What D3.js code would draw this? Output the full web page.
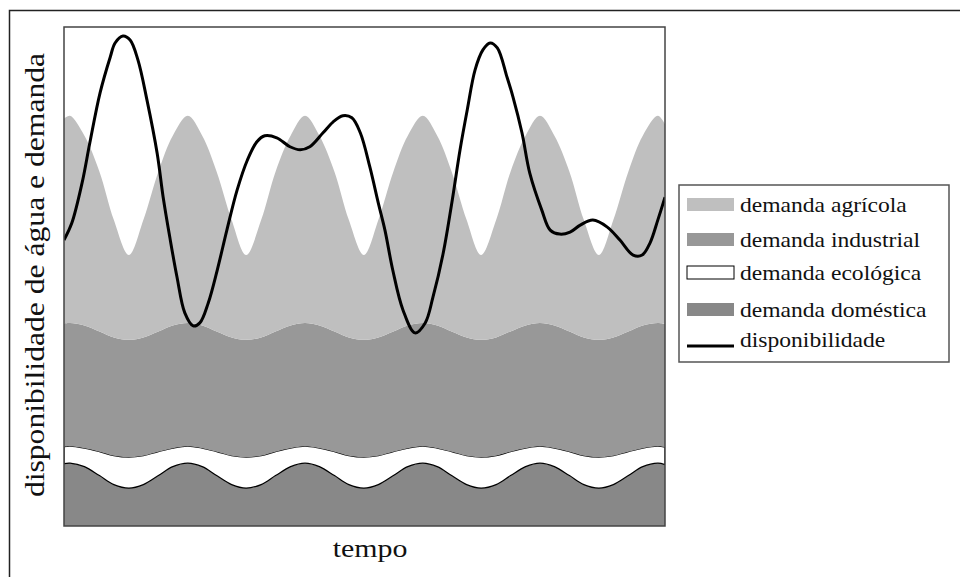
<!DOCTYPE html>
<html>
<head>
<meta charset="utf-8">
<script src="https://cdn.jsdelivr.net/npm/d3@7"></script>
<style>
  body { margin: 0; background: #fff; }
  svg { display: block; }
  text { font-family: "Liberation Serif", "Times New Roman", serif; fill: #111; }
</style>
</head>
<body>
<div id="root"></div>
<script>
// tempo grid (eighth of a demand cycle), plus both edges
const tempo = [0, 1.0, 3.4, 5.9, 8.3, 10.8, 13.2, 15.7, 18.1, 20.6, 23.0, 25.4, 27.9, 30.3, 32.8, 35.2,
  37.7, 40.1, 42.5, 45.0, 47.4, 49.9, 52.3, 54.8, 57.2, 59.7, 62.1, 64.5, 67.0, 69.4, 71.9, 74.3,
  76.8, 79.2, 81.6, 84.1, 86.5, 89.0, 91.4, 93.9, 96.3, 98.8, 100]

// demand of each use, stacked from the bottom
const domestica = [12.5, 12.6, 11.9, 10.1, 8.3, 7.6, 8.3, 10.1, 11.9, 12.6, 11.9, 10.1, 8.3, 7.6, 8.3, 10.1,
  11.9, 12.6, 11.9, 10.1, 8.3, 7.6, 8.3, 10.1, 11.9, 12.6, 11.9, 10.1, 8.3, 7.6, 8.3, 10.1,
  11.9, 12.6, 11.9, 10.1, 8.3, 7.6, 8.3, 10.1, 11.9, 12.6, 12.3]
const ecologica = [3.4, 3.4, 3.7, 4.8, 5.8, 6.2, 5.8, 4.8, 3.7, 3.4, 3.7, 4.8, 5.8, 6.2, 5.8, 4.8,
  3.7, 3.4, 3.7, 4.8, 5.8, 6.2, 5.8, 4.8, 3.7, 3.4, 3.7, 4.8, 5.8, 6.2, 5.8, 4.8,
  3.7, 3.4, 3.7, 4.8, 5.8, 6.2, 5.8, 4.8, 3.7, 3.4, 3.5]
const industrial = [24.7, 24.7, 24.6, 24.1, 23.7, 23.5, 23.7, 24.1, 24.6, 24.7, 24.6, 24.1, 23.7, 23.5, 23.7, 24.1,
  24.6, 24.7, 24.6, 24.1, 23.7, 23.5, 23.7, 24.1, 24.6, 24.7, 24.6, 24.1, 23.7, 23.5, 23.7, 24.1,
  24.6, 24.7, 24.6, 24.1, 23.7, 23.5, 23.7, 24.1, 24.6, 24.7, 24.7]
const agricola = [41.0, 41.5, 38.0, 32.0, 23.5, 17.0, 23.5, 32.0, 38.0, 41.5, 38.0, 32.0, 23.5, 17.0, 23.5, 32.0,
  38.0, 41.5, 38.0, 32.0, 23.5, 17.0, 23.5, 32.0, 38.0, 41.5, 38.0, 32.0, 23.5, 17.0, 23.5, 32.0,
  38.0, 41.5, 38.0, 32.0, 23.5, 17.0, 23.5, 32.0, 38.0, 41.5, 40.0]

// water availability
const dispTempo = [0, 1.3, 3.0, 4.3, 6.0, 7.7, 8.5, 9.8, 11.0, 12.3, 13.8, 15.5, 16.5, 17.6, 18.8, 20.1,
  21.5, 22.6, 24.0, 25.5, 27.1, 28.8, 30.5, 32.1, 33.4, 35.4, 37.6, 39.3, 40.9, 43.1, 44.8, 46.4,
  47.9, 49.3, 50.9, 52.3, 53.4, 54.7, 56.4, 58.4, 60.1, 61.4, 63.1, 64.6, 65.9, 67.1, 68.4, 69.7,
  70.9, 72.1, 73.7, 74.7, 76.2, 77.5, 79.5, 80.9, 82.5, 84.2, 85.9, 88.0, 90.4, 92.5, 94.7, 96.2,
  97.5, 98.8, 100]
const disponibilidade = [57.3, 60.7, 68.7, 76.8, 86.8, 94.0, 96.8, 98.2, 97.4, 93.4, 85.4, 74.7, 65.9, 57.9, 49.9, 42.7,
  40.1, 40.7, 44.7, 51.3, 59.3, 67.3, 73.3, 77.0, 78.2, 77.8, 76.0, 75.4, 76.0, 78.8, 81.0, 82.2,
  81.8, 78.8, 71.9, 64.7, 59.3, 51.3, 43.3, 38.7, 40.7, 45.9, 54.7, 65.3, 75.4, 83.4, 91.4, 95.4,
  96.8, 95.8, 90.0, 86.0, 78.8, 70.7, 63.3, 59.3, 58.5, 58.9, 60.3, 61.3, 59.9, 57.3, 54.3, 54.3,
  56.7, 61.3, 65.9]

const legendLabels = ["demanda agrícola", "demanda industrial", "demanda ecológica", "demanda doméstica", "disponibilidade"]
const yLabel = "disponibilidade de água e demanda"
const xLabel = "tempo"

const width = 960, height = 577
const plot = { left: 64, right: 665, top: 27, bottom: 526 }

const svg = d3.select("#root").append("svg")
  .attr("width", width).attr("height", height)

// outer frame, only top and left edges are visible
svg.append("path")
  .attr("d", "M9.5,577V10.5H960")
  .attr("fill", "none").attr("stroke", "#222").attr("stroke-width", 1.5)

const x = d3.scaleLinear().domain([0, 100]).range([plot.left, plot.right])
const y = d3.scaleLinear().domain([0, 100]).range([plot.bottom, plot.top])

const rows = tempo.map((t, i) => ({
  t: t, domestica: domestica[i], ecologica: ecologica[i], industrial: industrial[i], agricola: agricola[i]
}))
const keys = ["domestica", "ecologica", "industrial", "agricola"]
const colors = { domestica: "#888888", ecologica: "#ffffff", industrial: "#989898", agricola: "#bfbfbf" }
const series = d3.stack().keys(keys)(rows)

svg.append("clipPath").attr("id", "clip")
  .append("rect")
  .attr("x", plot.left).attr("y", plot.top)
  .attr("width", plot.right - plot.left).attr("height", plot.bottom - plot.top)

const g = svg.append("g").attr("clip-path", "url(#clip)")

const area = d3.area()
  .x(d => x(d.data.t))
  .y0(d => y(d[0]))
  .y1(d => y(d[1]))
  .curve(d3.curveCatmullRom)

g.selectAll("path.band")
  .data(series)
  .join("path")
  .attr("class", "band")
  .attr("d", area)
  .attr("fill", d => colors[d.key])
  .attr("stroke", d => d.key === "ecologica" ? "#000" : "none")
  .attr("stroke-width", 1.2)

const line = d3.line()
  .x((d, i) => x(dispTempo[i]))
  .y(d => y(d))
  .curve(d3.curveCatmullRom)

g.append("path")
  .datum(disponibilidade)
  .attr("d", line)
  .attr("fill", "none")
  .attr("stroke", "#000")
  .attr("stroke-width", 3)
  .attr("stroke-linejoin", "round")

// plot frame
svg.append("rect")
  .attr("x", plot.left).attr("y", plot.top)
  .attr("width", plot.right - plot.left).attr("height", plot.bottom - plot.top)
  .attr("fill", "none").attr("stroke", "#444").attr("stroke-width", 1.5)

// axis titles, the font is a bit wider than Times so stretch it
svg.append("text")
  .attr("transform", "translate(44,275) rotate(-90) scale(1.15,1)")
  .attr("text-anchor", "middle")
  .style("font-size", "27.5px")
  .text(yLabel)

svg.append("text")
  .attr("transform", "translate(370,557) scale(1.15,1)")
  .attr("text-anchor", "middle")
  .style("font-size", "26px")
  .text(xLabel)

// legend
const legend = svg.append("g")
legend.append("rect")
  .attr("x", 679).attr("y", 185).attr("width", 270).attr("height", 177)
  .attr("fill", "#fff").attr("stroke", "#555").attr("stroke-width", 1.5)

const legendKeys = ["agricola", "industrial", "ecologica", "domestica", "disponibilidade"]
const rowY = [212, 247, 280, 317, 347]

legendKeys.forEach((k, i) => {
  if (k === "disponibilidade") {
    legend.append("line")
      .attr("x1", 687).attr("x2", 734).attr("y1", rowY[i] - 1).attr("y2", rowY[i] - 1)
      .attr("stroke", "#000").attr("stroke-width", 3)
  } else {
    legend.append("rect")
      .attr("x", 687).attr("y", rowY[i] - 14).attr("width", 47).attr("height", 13)
      .attr("fill", colors[k])
      .attr("stroke", k === "ecologica" ? "#000" : "none")
      .attr("stroke-width", 1)
  }
  legend.append("text")
    .attr("transform", `translate(740,${rowY[i]}) scale(1.15,1)`)
    .style("font-size", "20.5px")
    .text(legendLabels[i])
})
</script>
</body>
</html>
